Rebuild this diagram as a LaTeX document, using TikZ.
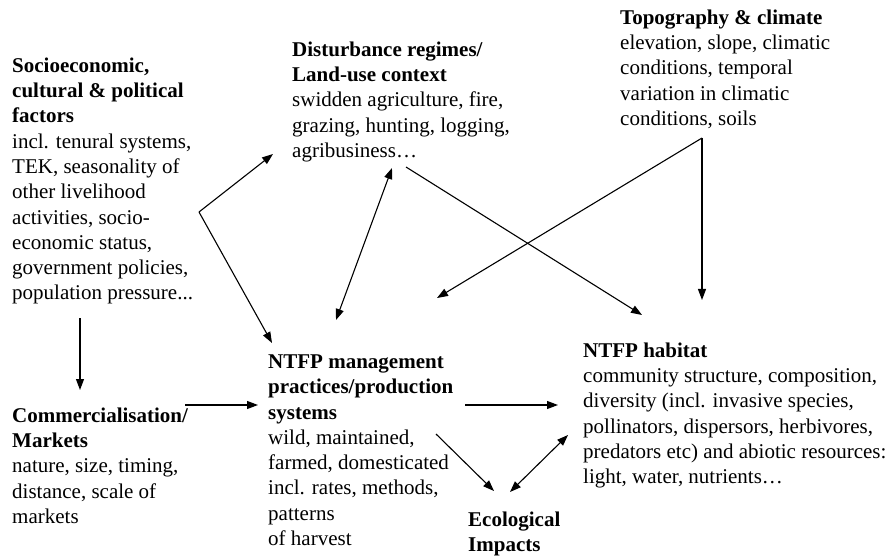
\documentclass[tikz,border=0pt]{standalone}
\usepackage{fontspec}
\setmainfont{Liberation Serif}
\usepackage{tikz}
\usetikzlibrary{arrows.meta, positioning}

\begin{document}
\begin{tikzpicture}[x=1pt, y=-1pt,
		every node/.style={font=\fontsize{21}{25.3}\selectfont},
		factorbox/.style={anchor=north west, inner sep=0pt, align=left,
			execute at begin node=\strut},
		arr/.style={-{Triangle[length=11pt, width=8pt]}, line width=1.1pt},
		dblarr/.style={{Triangle[length=11pt, width=8pt]}-{Triangle[length=11pt, width=8pt]}, line width=1.1pt},
		]
		\useasboundingbox (0,0) rectangle (892,556);

		% Socioeconomic factors
		\node[factorbox] (socio) at (12,57.5)
		{\textbf{Socioeconomic,}\\
			\textbf{cultural \& political}\\
			\textbf{factors}\\
			incl. tenural systems,\\
			TEK, seasonality of\\
			other livelihood\\
			activities,  socio-\\
			economic status,\\
			government policies,\\
			population pressure...};

		% Disturbance regimes
		\node[factorbox] (dist) at (292,41.5)
		{\textbf{Disturbance regimes/}\\
			\textbf{Land-use context}\\
			swidden agriculture, fire,\\
			grazing, hunting, logging,\\
			agribusiness…};

		% Topography and climate
		\node[factorbox] (topo) at (620,9.5)
		{\textbf{Topography \& climate}\\
			elevation, slope, climatic\\
			conditions, temporal\\
			variation in climatic\\
			conditions, soils};

		% Commercialisation
		\node[factorbox] (comm) at (12,407.5)
		{\textbf{Commercialisation/}\\
			\textbf{Markets}\\
			nature, size, timing,\\
			distance, scale of\\
			markets};

		% NTFP management
		\node[factorbox] (mgmt) at (268,354.5)
		{\textbf{NTFP management}\\
			\textbf{practices/production}\\
			\textbf{systems}\\
			wild, maintained,\\
			farmed, domesticated\\
			incl. rates, methods,\\
			patterns\\
			of harvest};

		% NTFP habitat
		\node[factorbox] (habitat) at (583,342.5)
		{\textbf{NTFP habitat}\\
			community structure, composition,\\
			diversity (incl. invasive species,\\
			pollinators, dispersors, herbivores,\\
			predators etc) and abiotic resources:\\
			light, water, nutrients…};

		% Ecological impacts
		\node[factorbox] (eco) at (468,511.5)
		{\textbf{Ecological}\\
			\textbf{Impacts}};

		% Arrow ends
		\coordinate (fork) at (199,212);
		\coordinate (distIn) at (273,154);
		\coordinate (mgmtIn) at (272,343);
		\coordinate (socioOut) at (80,318);
		\coordinate (commIn) at (80,390);
		\coordinate (commOut) at (185,405);
		\coordinate (mgmtLeft) at (258,405);
		\coordinate (distLow) at (392,168);
		\coordinate (mgmtTop) at (336,320);
		\coordinate (distOut) at (406,167);
		\coordinate (habTop) at (642,315);
		\coordinate (topoOut) at (702,138);
		\coordinate (habIn) at (702,300);
		\coordinate (mgmtRight) at (437,298);
		\coordinate (mgmtOut) at (465,405);
		\coordinate (habLeft) at (558,405);
		\coordinate (mgmtLow) at (436,434);
		\coordinate (ecoIn) at (494,491);
		\coordinate (ecoRight) at (510,492);
		\coordinate (habLow) at (568,435);

		% Arrows
		\draw[arr] (fork) -- (distIn);
		\draw[arr] (fork) -- (mgmtIn);
		\draw[arr] (socioOut) -- (commIn);
		\draw[arr] (commOut) -- (mgmtLeft);
		\draw[dblarr] (mgmtTop) -- (distLow);
		\draw[arr] (distOut) -- (habTop);
		\draw[arr] (topoOut) -- (habIn);
		\draw[arr] (topoOut) -- (mgmtRight);
		\draw[arr] (mgmtOut) -- (habLeft);
		\draw[arr] (mgmtLow) -- (ecoIn);
		\draw[dblarr] (ecoRight) -- (habLow);
	\end{tikzpicture}
\end{document}
